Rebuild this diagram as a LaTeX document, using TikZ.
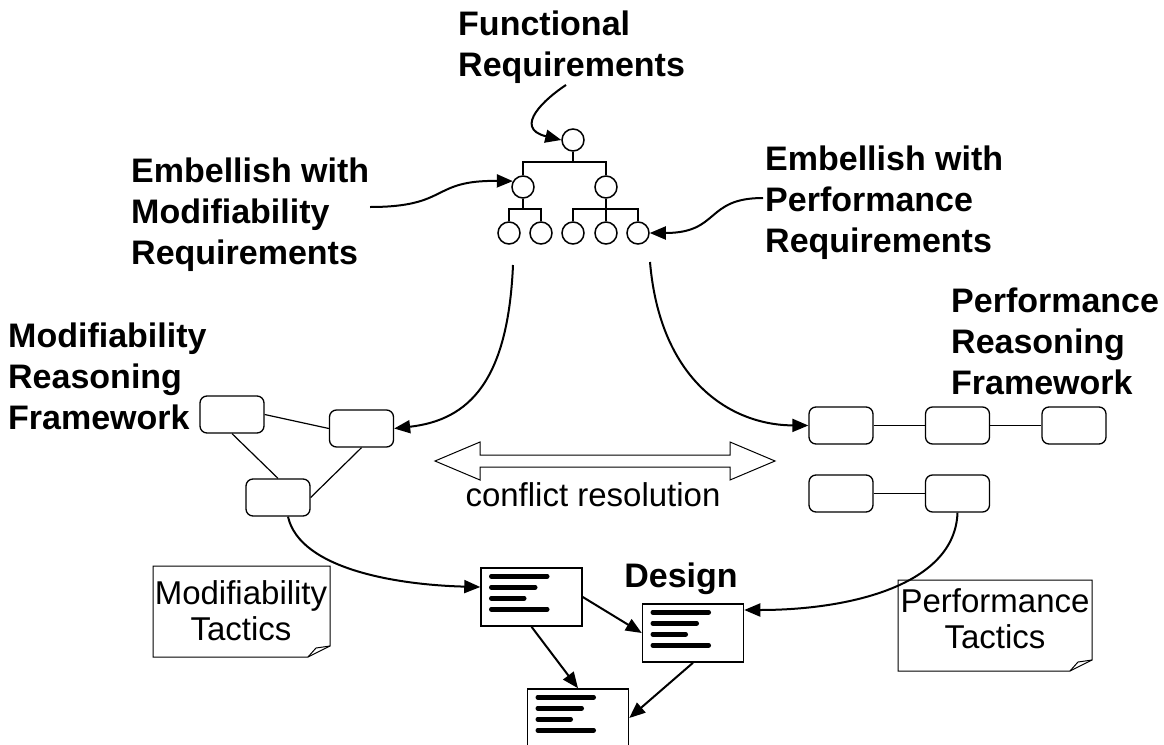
\documentclass[tikz,border=0pt]{standalone}
\usepackage{fontspec}
\setmainfont{Liberation Sans}
\usetikzlibrary{arrows.meta,calc}
\newcommand\mydoclines[5]{%
  \draw[dline] ([shift={(11,9)}]#1.north west) -- ++(#2,0);
  \draw[dline] ([shift={(11,20)}]#1.north west) -- ++(#3,0);
  \draw[dline] ([shift={(11,31)}]#1.north west) -- ++(#4,0);
  \draw[dline] ([shift={(11,42)}]#1.north west) -- ++(#5,0);}
\begin{document}
\begin{tikzpicture}[x=1pt,y=-1pt,
  big/.style={font=\fontsize{34}{41}\selectfont\bfseries, inner sep=0pt, align=left},
  plain/.style={font=\fontsize{33}{36}\selectfont, inner sep=0pt, align=center},
  circ/.style={circle, draw, line width=1.5pt, minimum size=22pt, inner sep=0pt},
  rbox/.style={draw, rounded corners=7pt, line width=1.3pt, minimum width=64pt, minimum height=37pt, inner sep=0pt},
  doc/.style={draw, line width=1.5pt, minimum width=101pt, minimum height=58pt, inner sep=0pt, fill=white},
  conn/.style={line width=2pt, -{Triangle[length=16pt,width=13pt]}},
  tree/.style={line width=1.5pt},
  thin/.style={line width=1.2pt},
  dline/.style={line width=4.5pt, line cap=round},
  notebox/.style={line width=1pt}]
\useasboundingbox (0,0) rectangle (1164,744);

% texts
\node[big, anchor=north west] (fr) at (458,11) {Functional\\Requirements};
\node[big, anchor=north west] (em) at (131,158) {Embellish with\\Modifiability\\Requirements};
\node[big, anchor=north west] (ep) at (765,146) {Embellish with\\Performance\\Requirements};
\node[big, anchor=north west] (mrf) at (8,323) {Modifiability\\Reasoning\\Framework};
\node[big, anchor=north west] (prf) at (951,288) {Performance\\Reasoning\\Framework};
\node[font=\fontsize{34}{41}\selectfont\bfseries, inner sep=0pt, anchor=base] (design) at (681,587) {Design};
\node[font=\fontsize{33}{36}\selectfont, inner sep=0pt, anchor=base] (cr) at (593,506) {conflict resolution};

% tree
\node[circ] (t0) at (573,140) {};
\node[circ] (t1) at (523,187) {};
\node[circ] (t2) at (606,187) {};
\node[circ] (t3) at (509,233) {};
\node[circ] (t4) at (541,233) {};
\node[circ] (t5) at (573,233) {};
\node[circ] (t6) at (606,233) {};
\node[circ] (t7) at (638,233) {};
\coordinate (b1) at (0,162);
\coordinate (b2) at (0,209);
\draw[tree] (t0.south) -- (t0.south |- b1);
\draw[tree] (t1.north) |- (t2.north |- b1) -- (t2.north);
\draw[tree] (t1.south) -- (t1.south |- b2);
\draw[tree] (t3.north) |- (t4.north |- b2) -- (t4.north);
\draw[tree] (t2.south) -- (t6.north);
\draw[tree] (t5.north) |- (t7.north |- b2) -- (t7.north);

% arrows into tree
\coordinate (emA) at (370,207);
\coordinate (epA) at (763,198);
\coordinate (frA) at (566,85);
\draw[conn] (frA) .. controls (546,98) and (512,128) .. (t0.west);
\draw[conn] (emA) .. controls (450,207) and (430,180) .. (t1.150);
\draw[conn] (epA) .. controls (705,198) and (720,233) .. (t7.east);

% modifiability framework boxes
\node[rbox] (A) at (232,414.5) {};
\node[rbox] (B) at (361.5,428.5) {};
\node[rbox] (C) at (278,497.5) {};
\draw[thin] (A.east) -- (B.west);
\draw[thin] (A.south) -- (C.north);
\draw[thin] (B.south) -- (C.east);

% performance framework boxes
\node[rbox] (D) at (841,425.5) {};
\node[rbox] (E) at (957.5,425.5) {};
\node[rbox] (F) at (1074,425.5) {};
\node[rbox] (G) at (841,493.5) {};
\node[rbox] (H) at (957.5,493.5) {};
\draw[thin] (D.east) -- (E.west);
\draw[thin] (E.east) -- (F.west);
\draw[thin] (G.east) -- (H.west);

% big curves
\coordinate (ls) at (513,265);
\coordinate (rs) at (650,262);
\draw[conn] (ls) .. controls (508,380) and (470,420) .. (B.east);
\draw[conn] (rs) .. controls (660,380) and (730,425) .. (D.west);

% double arrow
\draw[line width=1pt] (435,461) -- (480,442) -- (480,455) -- (730,455) -- (730,442) -- (775,461)
  -- (730,480) -- (730,467) -- (480,467) -- (480,480) -- cycle;

% notes
\draw[notebox] (153,566) -- (330,566) -- (330,646) -- (308,657) -- (153,657) -- cycle;
\draw[notebox] (330,646) -- (316,648) -- (308,657);
\node[plain, anchor=north] (mt) at (241,580) {Modifiability\\Tactics};
\draw[notebox] (898,580) -- (1092,580) -- (1092,660) -- (1070,671) -- (898,671) -- cycle;
\draw[notebox] (1092,660) -- (1078,662) -- (1070,671);
\node[plain, anchor=north] (pt) at (995,588) {Performance\\Tactics};

% design documents
\node[doc] (d1) at (531.5,597) {};
\node[doc] (d2) at (693,633) {};
\node[doc] (d3) at (578,718) {};
\mydoclines{d1}{56}{44}{33}{56}
\mydoclines{d2}{56}{44}{33}{56}
\mydoclines{d3}{56}{44}{33}{56}

\draw[conn] ([xshift=10pt]C.south) .. controls (300,570) and (400,585) .. ([yshift=10pt]d1.west);
\draw[conn] (H.south) .. controls (955,585) and (850,610) .. ([yshift=23pt]d2.east);
\draw[conn] (d1.east) -- (d2.west);
\draw[conn] (d1.south) -- (d3.north);
\draw[conn] (d2.south) -- (d3.east);
\end{tikzpicture}
\end{document}
